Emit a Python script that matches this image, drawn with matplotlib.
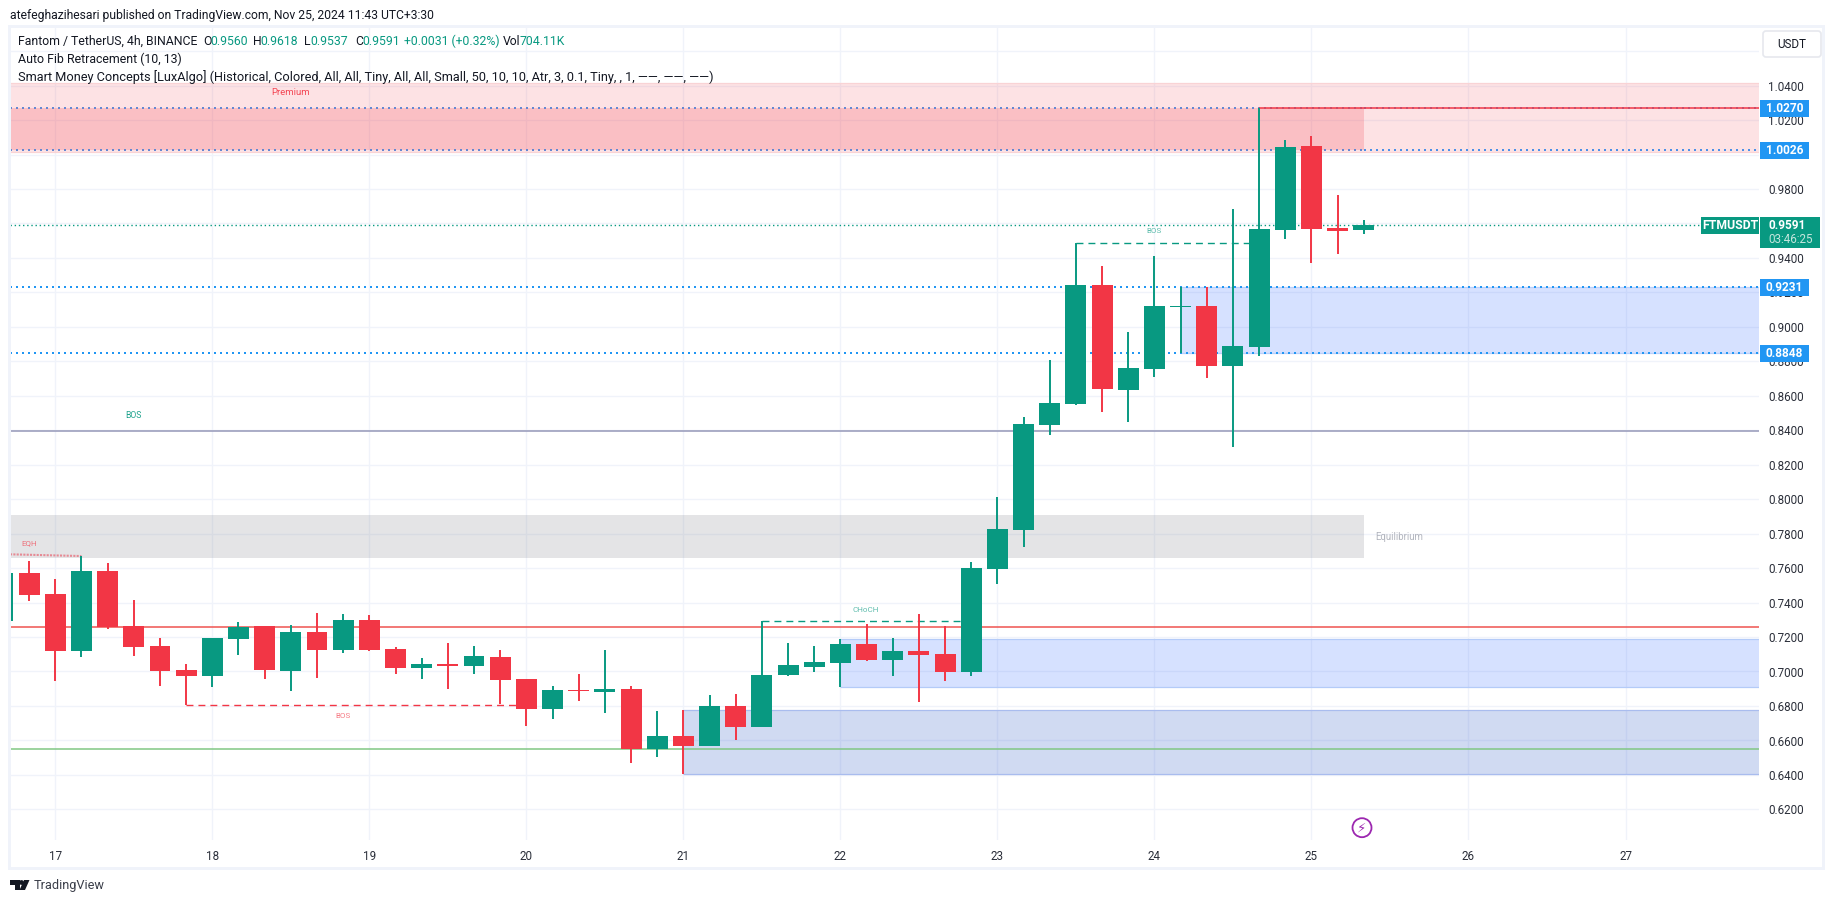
import matplotlib
matplotlib.use('Agg')
import matplotlib.pyplot as plt
from matplotlib.patches import Rectangle, FancyBboxPatch, Polygon, Circle
from matplotlib.ticker import FixedLocator, FixedFormatter
import numpy as np

W, H = 1835, 903
GREEN = '#089981'
RED = '#f23645'
BLUE = '#2196f3'
INK = '#131722'

## candles, 4h bars, bar 0 = day 17 00:00
bar_index = np.arange(-2, 51)
opens = [0.7293, 0.7572, 0.7450, 0.7119, 0.7583, 0.7264, 0.7148, 0.7009, 0.6974, 0.7189, 0.7264,
         0.7003, 0.7229, 0.7125, 0.7299, 0.7131, 0.7020, 0.7044, 0.7032, 0.7084, 0.6957, 0.6782,
         0.6893, 0.6881, 0.6899, 0.6550, 0.6626, 0.6568, 0.6800, 0.6678, 0.6980, 0.7026, 0.7049,
         0.7160, 0.7067, 0.7119, 0.7102, 0.6997, 0.7595, 0.7821, 0.8431, 0.8553, 0.9243, 0.8634,
         0.8756, 0.9116, 0.9121, 0.8773, 0.8884, 0.9563, 1.0050, 0.9574, 0.9560]
highs = [0.7600, 0.7641, 0.7537, 0.7670, 0.7630, 0.7415, 0.7195, 0.7044, 0.7195, 0.7287, 0.7264,
         0.7270, 0.7340, 0.7334, 0.7328, 0.7142, 0.7079, 0.7166, 0.7148, 0.7125, 0.6957, 0.6916,
         0.6986, 0.7125, 0.6916, 0.6771, 0.6777, 0.6864, 0.6870, 0.7291, 0.7165, 0.7148, 0.7189,
         0.7276, 0.7195, 0.7334, 0.7264, 0.7636, 0.8013, 0.8477, 0.8808, 0.9485, 0.9354, 0.8971,
         0.9412, 0.9232, 0.9232, 0.9684, 1.0270, 1.0085, 1.0108, 0.9766, 0.9618]
lows = [0.7250, 0.7409, 0.6945, 0.7084, 0.7247, 0.7090, 0.6916, 0.6804, 0.6910, 0.7096, 0.6957,
        0.6887, 0.6962, 0.7108, 0.7119, 0.6986, 0.6957, 0.6899, 0.6986, 0.6812, 0.6684, 0.6724,
        0.6829, 0.6759, 0.6469, 0.6504, 0.6405, 0.6568, 0.6603, 0.6678, 0.6974, 0.6997, 0.6910,
        0.7061, 0.6974, 0.6823, 0.6945, 0.6974, 0.7508, 0.7723, 0.8373, 0.8547, 0.8506, 0.8448,
        0.8709, 0.8849, 0.8704, 0.8303, 0.8831, 0.9510, 0.9371, 0.9423, 0.9537]
closes = [0.7572, 0.7444, 0.7119, 0.7583, 0.7256, 0.7142, 0.7003, 0.6974, 0.7195, 0.7258, 0.7009,
          0.7229, 0.7125, 0.7299, 0.7125, 0.7020, 0.7044, 0.7032, 0.7090, 0.6951, 0.6782, 0.6893,
          0.6887, 0.6899, 0.6550, 0.6626, 0.6568, 0.6800, 0.6678, 0.6980, 0.7038, 0.7055, 0.7160,
          0.7067, 0.7119, 0.7096, 0.6997, 0.7601, 0.7827, 0.8437, 0.8559, 0.9243, 0.8640, 0.8762,
          0.9121, 0.9121, 0.8773, 0.8889, 0.9568, 1.0044, 0.9568, 0.9557, 0.9591]

y_ticks = [0.62, 0.64, 0.66, 0.68, 0.70, 0.72, 0.74, 0.76, 0.78, 0.80, 0.82, 0.84, 0.86, 0.88,
           0.90, 0.92, 0.94, 0.96, 0.98, 1.00, 1.02, 1.04]
## 1.0000 sits fully under the 1.0026 tag in the original
y_tick_labels = ['0.6200', '0.6400', '0.6600', '0.6800', '0.7000', '0.7200', '0.7400', '0.7600',
                 '0.7800', '0.8000', '0.8200', '0.8400', '0.8600', '0.8800', '0.9000', '0.9200',
                 '0.9400', '0.9600', '0.9800', '', '1.0200', '1.0400']
y_grid_extra = [1.06]
day_bars = [0, 6, 12, 18, 24, 30, 36, 42, 48, 54, 60]
day_labels = ['17', '18', '19', '20', '21', '22', '23', '24', '25', '26', '27']

premium_zone = (1.0414, 1.0017)
supply_zone = (1.0270, 1.0026)
equilibrium_zone = (0.7909, 0.7659)
demand_zone = (0.9231, 0.8848)
ob_zone_upper = (0.7187, 0.6912)
ob_zone_lower = (0.6775, 0.6407)

last_price = 0.9591
bos_line = 0.8394
red_line = 0.7256
green_line = 0.6548
fib_levels = [1.0270, 1.0026, 0.9231, 0.8848]

fig = plt.figure(figsize=(W / 100, (H + 0.1) / 100), dpi=100, facecolor='white')
plt.rcParams['font.family'] = ['Roboto', 'DejaVu Sans']

## pixel helpers, the plot pane is x 10..1759, y 27..840
def fx(x):
    return x / W

def fy(y):
    return 1 - y / H

def box(x, top, w, h, color, z=5):
    fig.add_artist(Rectangle((x, H - top - h), w, h, transform=None, color=color, lw=0, zorder=z))

ax = fig.add_axes([fx(10), fy(840), (1759 - 10) / W, (840 - 27) / H])
x0 = (10 - 55.3) / 26.17
x1 = (1759 - 55.3) / 26.17
ax.set_xlim(x0, x1)
ax.set_ylim(1.04 - (840 - 85.7) / 1723, 1.04 + (85.7 - 27) / 1723)
for s in ax.spines.values():
    s.set_visible(False)

ax.set_axisbelow(True)
ax.yaxis.tick_right()
ax.yaxis.set_major_locator(FixedLocator(y_ticks))
ax.yaxis.set_minor_locator(FixedLocator(y_grid_extra))
ax.yaxis.set_major_formatter(FixedFormatter(y_tick_labels))
ax.xaxis.set_major_locator(FixedLocator(day_bars))
ax.xaxis.set_major_formatter(FixedFormatter(day_labels))
ax.tick_params(axis='y', length=0, pad=6.6, labelsize=8.4, labelcolor='#2a2e39')
ax.tick_params(axis='x', length=0, pad=7, labelsize=8.4, labelcolor='#2a2e39')
ax.tick_params(axis='y', which='minor', length=0)
ax.grid(True, color='#f0f3fa', lw=1.0)
ax.grid(True, which='minor', axis='y', color='#f0f3fa', lw=1.0)

## zones
def zone(left, right, band, color, alpha, edge=None):
    ax.add_patch(Rectangle((left, band[1]), right - left, band[0] - band[1], facecolor=color,
                           alpha=alpha, lw=0, zorder=1.2))
    if edge:
        ax.hlines(band, left, right, color=edge, lw=0.9, zorder=1.3)

zone(x0, x1, premium_zone, RED, 0.14, '#f9d3d5')
zone(x0, 50, supply_zone, RED, 0.2)
zone(x0, 50, equilibrium_zone, '#787b86', 0.2)
zone(43, x1, demand_zone, '#2962ff', 0.19, '#b9cffa')
zone(30, x1, ob_zone_upper, '#2962ff', 0.19, '#b4cbf8')
zone(24, x1, ob_zone_lower, '#2957c8', 0.22, '#a9bcee')

## horizontal levels
dots = [(0, (1, 2))]
ax.hlines(bos_line, x0, x1, color='#9598b8', lw=1.1, zorder=1.5)
ax.hlines(red_line, x0, x1, color='#ef5350', lw=1.1, zorder=1.5)
ax.hlines(green_line, x0, x1, color='#81c784', lw=1.1, zorder=1.5)
ax.hlines(fib_levels[2:], x0, x1, color=BLUE, lw=1.44, linestyles=dots, zorder=1.6)
ax.hlines(fib_levels[:2], x0, 50, color='#6488d2', lw=1.44, linestyles=dots, zorder=1.6)
ax.hlines(fib_levels[:2], 50, x1, color='#4a90e8', lw=1.44, linestyles=dots, zorder=1.6)
ax.hlines(fib_levels[0], 46, x1, color=RED, lw=1.1, zorder=1.65)
ax.hlines(last_price, x0, (1701 - 55.3) / 26.17, color=GREEN, lw=1.0, linestyles=dots, zorder=1.7)

## structure breaks
dash = [(0, (5, 3.6))]
ax.hlines(0.9485, 39, 45.6, color=GREEN, lw=1.0, linestyles=dash, zorder=2)
ax.hlines(0.7291, 27, 35, color=GREEN, lw=1.0, linestyles=dash, zorder=2)
ax.hlines(0.6804, 5, 18, color=RED, lw=1.0, linestyles=dash, zorder=2)
ax.plot([x0, 1], [0.7680, 0.7670], color='#e68a94', lw=1.5, ls=(0, (1, 0.6)), zorder=2)

def tag(x, y, s, color, size=5.8, alpha=0.65):
    ax.text(x, y, s, color=color, fontsize=size, ha='center', va='center', alpha=alpha, zorder=2.2)

tag(42.0, 0.9555, 'BOS', GREEN)
tag(3.0, 0.8486, 'BOS', GREEN, 6.2, 0.9)
tag(10.98, 0.6741, 'BOS', RED)
tag(30.95, 0.7357, 'CHoCH', GREEN)
tag(-1.0, 0.7746, 'EQH', RED)
tag(9.0, 1.0360, 'Premium', RED, 6.8, 0.9)
tag(51.35, 0.7783, 'Equilibrium', '#b2b5be', 6.9, 1)

## candles
opens_a, highs_a, lows_a, closes_a = map(np.array, (opens, highs, lows, closes))
up = closes_a >= opens_a
colors = np.where(up, GREEN, RED)
ax.vlines(bar_index, lows_a, highs_a, colors=colors, lw=1.4, zorder=3)
ax.bar(bar_index, closes_a - opens_a, bottom=opens_a, width=0.8, color=colors, lw=0, zorder=3.1)

## lightning mark under the last bar
fig.add_artist(Circle((1362, H - 827.7), 9.5, transform=None, fill=False, ec='#9c27b0', lw=1.3))
fig.text(fx(1362), fy(827.7), '\u26a1', family='DejaVu Sans', color='#9c27b0', fontsize=9.5,
         ha='center', va='center')

## price labels on the axis
for lv in fib_levels:
    py = 85.7 + (1.04 - lv) * 1723
    box(1760, py - 8.5, 49, 17, BLUE)
    fig.text(fx(1784.5), fy(py), '%.4f' % lv, color='white', fontsize=8.6, fontweight='bold',
             ha='center', va='center', zorder=6)

box(1701, 216.5, 58, 17, GREEN)
fig.text(fx(1730), fy(225), 'FTMUSDT', color='white', fontsize=8.8, fontweight='bold', ha='center', va='center', zorder=6)
box(1760, 217, 60, 31, GREEN)
fig.text(fx(1768), fy(225), '%.4f' % last_price, color='white', fontsize=8.6, fontweight='bold', ha='left', va='center', zorder=6)
fig.text(fx(1768), fy(239), '03:46:25', color='#c4e6dd', fontsize=8.4, ha='left', va='center', zorder=6)

## USDT button
fig.add_artist(FancyBboxPatch((1766, H - 54), 52, 20, boxstyle='round,pad=3', transform=None,
                              fc='white', ec='#e6e8ee', lw=1.2, zorder=5))
fig.text(fx(1792), fy(44.5), 'USDT', color=INK, fontsize=8.4, ha='center', va='center', zorder=6)

## chart frame
box(8, 867, 1817, 3, '#f0f3fa', 4)
box(8, 25, 1817, 3, '#f0f3fa', 4)
box(8, 25, 3, 845, '#f0f3fa', 4)
box(1822, 25, 3, 845, '#f0f3fa', 4)

## header and legend
fig.text(fx(10), fy(15), 'atefeghazihesari published on TradingView.com, Nov 25, 2024 11:43 UTC+3:30',
         color=INK, fontsize=8.7, va='center')
legend_first = [(18, 'Fantom / TetherUS, 4h, BINANCE', INK), (203, 'O', INK), (210, '0.9560', GREEN), (253, 'H', INK),
                (260, '0.9618', GREEN), (304, 'L', INK), (310, '0.9537', GREEN), (355, 'C', INK), (362, '0.9591', GREEN),
                (404, '+0.0031 (+0.32%)', GREEN), (503, 'Vol', INK), (520, '704.11K', GREEN)]
for lx, s, c in legend_first:
    fig.text(fx(lx), fy(41.7), s, color=c, fontsize=8.8, va='center', zorder=6)
fig.text(fx(18), fy(59), 'Auto Fib Retracement (10, 13)', color=INK, fontsize=8.9, va='center', zorder=6)
fig.text(fx(18), fy(76.7), 'Smart Money Concepts [LuxAlgo] (Historical, Colored, All, All, Tiny, All, All, Small, 50, 10, 10, Atr, 3, 0.1, Tiny, , 1, \u2014\u2014, \u2014\u2014, \u2014\u2014)',
         color=INK, fontsize=9.2, va='center', zorder=6)

## TradingView logo
fig.add_artist(Polygon([(10, H - 880), (20, H - 880), (20, H - 890), (15, H - 890), (15, H - 885), (10, H - 885)],
                       closed=True, transform=None, color=INK, lw=0))
fig.add_artist(Polygon([(24, H - 880), (29.5, H - 880), (25, H - 890), (19.5, H - 890)],
                       closed=True, transform=None, color=INK, lw=0))
fig.add_artist(Circle((21.5, H - 882.5), 2.4, transform=None, color=INK, lw=0))
fig.text(fx(33.5), fy(885), 'TradingView', color='#3b3f4a', fontsize=9.2, va='center')

fig.savefig('out.png', dpi=100, facecolor='white')
